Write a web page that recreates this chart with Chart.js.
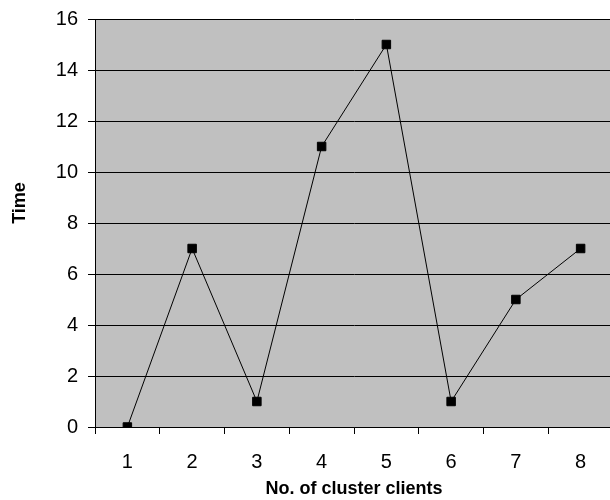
<!DOCTYPE html>
<html>
<head>
<meta charset="utf-8">
<script src="https://cdn.jsdelivr.net/npm/chart.js@4/dist/chart.umd.min.js"></script>
<style>
  html, body { margin: 0; padding: 0; background: #fff; overflow: hidden; }
  #wrap { width: 620px; height: 500px; }
</style>
</head>
<body>
<div id="wrap"><canvas id="timeChart" width="620" height="500"></canvas></div>
<script>
const clients = ['1', '2', '3', '4', '5', '6', '7', '8'];
const times = [0, 7, 1, 11, 15, 1, 5, 7];
const yTicks = [0, 2, 4, 6, 8, 10, 12, 14, 16];

const tickFont = { family: "'Liberation Sans', Arial, sans-serif", size: 20 };
const titleFont = { family: "'Liberation Sans Narrow', 'Liberation Sans', Arial, sans-serif", size: 18, weight: 'bold' };

// gray plot area like the old Excel default
const plotBg = {
  id: 'plotBg',
  beforeDraw(chart) {
    const { ctx, chartArea: a } = chart;
    ctx.save();
    ctx.fillStyle = '#c0c0c0';
    ctx.fillRect(a.left, a.top, a.right - a.left, a.bottom - a.top);
    ctx.restore();
  }
};

new Chart(document.getElementById('timeChart').getContext('2d'), {
  type: 'line',
  data: {
    labels: clients,
    datasets: [{
      data: times,
      borderColor: '#000',
      borderWidth: 1,
      backgroundColor: '#000',
      pointStyle: 'rect',
      pointRadius: 6,
      pointHoverRadius: 6,
      tension: 0,
      fill: false
    }]
  },
  options: {
    responsive: false,
    animation: false,
    layout: { padding: { top: 19, right: 5, left: 0, bottom: 0 } },
    plugins: {
      legend: { display: false },
      tooltip: { enabled: false }
    },
    scales: {
      x: {
        offset: true,
        afterFit: s => { s.height = 73; s.paddingLeft = 0; s.paddingRight = 0; },
        grid: { offset: true, drawOnChartArea: false, drawTicks: true, tickLength: 7, tickColor: '#000' },
        border: { color: '#000', width: 1 },
        ticks: { color: '#000', font: tickFont, padding: 16, maxRotation: 0 },
        title: { display: true, text: 'No. of cluster clients', color: '#000', font: titleFont, padding: { top: 0, bottom: 0 } }
      },
      y: {
        min: yTicks[0],
        max: yTicks[yTicks.length - 1],
        afterFit: s => { s.width = 95; s.paddingTop = 0; s.paddingBottom = 0; },
        afterBuildTicks: s => { s.ticks = yTicks.map(v => ({ value: v })); },
        grid: { color: '#000', lineWidth: 1, drawTicks: true, tickLength: 7, tickColor: '#000' },
        border: { color: '#000', width: 1 },
        ticks: { color: '#000', font: tickFont, padding: 10 },
        title: { display: true, text: '        Time', color: '#000', font: titleFont, padding: { top: 9, bottom: 0 } }
      }
    }
  },
  plugins: [plotBg]
});
</script>
</body>
</html>
